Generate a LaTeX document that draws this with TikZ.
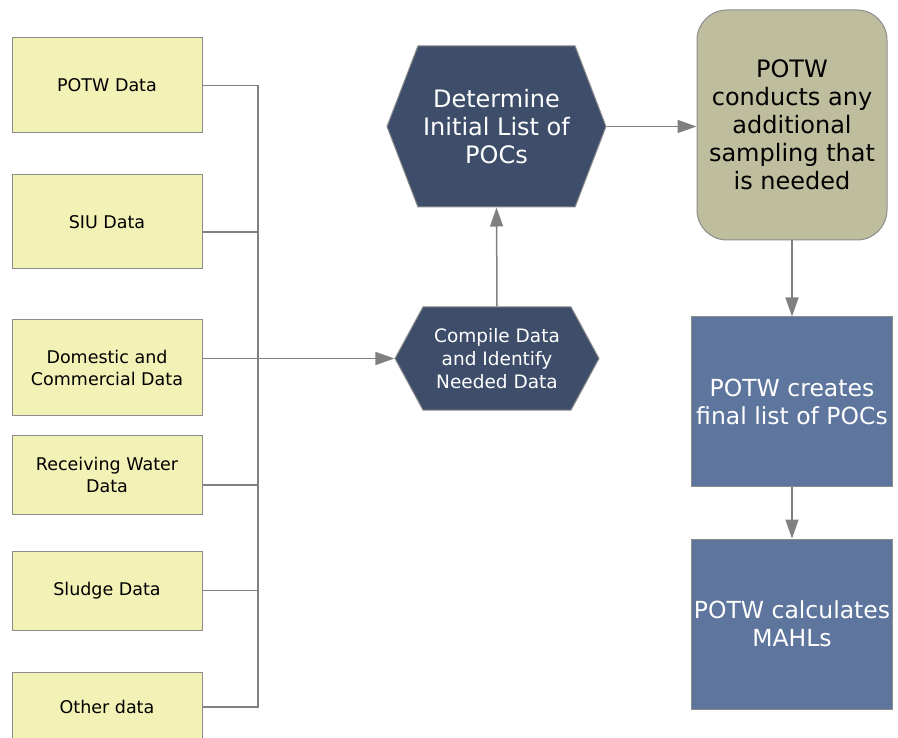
\documentclass[tikz,border=0pt]{standalone}
\usepackage{fontspec}
\setmainfont{DejaVu Sans}
\usepackage{tikz}
\usetikzlibrary{shapes.symbols, arrows.meta, positioning}
\definecolor{srcfill}{HTML}{F2F2B6}
\definecolor{hexfill}{HTML}{3E4E6A}
\definecolor{olivefill}{HTML}{BEBE9E}
\definecolor{bluefill}{HTML}{5E769E}
\definecolor{edgegray}{HTML}{8C8C8C}
\definecolor{linegray}{HTML}{808080}
\tikzset{
  base/.style={draw=edgegray, line width=1pt, align=center, inner sep=2pt},
  % input data boxes on the left
  src/.style={base, rectangle, fill=srcfill, minimum width=190pt,
    font={\fontsize{17.5}{22}\selectfont}},
  % hexagons in the middle
  hexa/.style={base, signal, signal to=east and west, fill=hexfill, text=white},
  hexa_big/.style={hexa, minimum width=219pt, minimum height=161pt,
    signal pointer angle=138, font={\fontsize{24}{28}\selectfont}},
  hexa_small/.style={hexa, minimum width=204pt, minimum height=103pt,
    signal pointer angle=123, font={\fontsize{18.5}{23}\selectfont}},
  % steps on the right
  term/.style={base, rectangle, rounded corners=30pt, fill=olivefill,
    minimum width=190pt, minimum height=230pt, font={\fontsize{24}{28}\selectfont}},
  proc/.style={base, rectangle, fill=bluefill, text=white,
    minimum width=201pt, font={\fontsize{23.5}{28}\selectfont}},
  % -------------------------------------------------
  % connector styles
  link/.style={draw=linegray, line width=1.5pt},
  flow/.style={link, -{Triangle[length=19pt, width=13pt]}}
}

\begin{document}
\begin{tikzpicture}[x=1pt, y=-1pt]
\useasboundingbox (0,0) rectangle (898,738);

% -------------------------------------------------
% data sources
\node [src, minimum height=95pt] (potw) at (107,85.5) {POTW Data};
\node [src, minimum height=94pt] (siu) at (107,222) {SIU Data};
\node [src, minimum height=95pt] (domestic) at (107,367.5) {Domestic and\\Commercial Data};
\node [src, minimum height=79pt] (receiving) at (107,474.5) {Receiving Water\\Data};
\node [src, minimum height=79pt] (sludge) at (107,590.5) {Sludge Data};
\node [src, minimum height=70pt] (other) at (107,707) {Other data};

% -------------------------------------------------
% processing steps
\node [hexa_small] (compile) at (497,358.5) {Compile Data\\and Identify\\Needed Data};
\node [hexa_big] (determine) at (496.5,126.5) {Determine\\Initial List of\\POCs};
\node [term] (sampling) at (792,125) {POTW\\conducts any\\additional\\sampling that\\is needed};
\node [proc, minimum height=169pt, below=76pt of sampling] (final) {POTW creates\\final list of POCs};
\node [proc, minimum height=170pt, below=52pt of final] (mahl) {POTW calculates\\MAHLs};

% -------------------------------------------------
% bus collecting the data sources
\coordinate (bus) at (258,0);
\draw [link] (potw.east) -- (potw.east -| bus) -- (other.east -| bus) -- (other.east);
\draw [link] (siu.east) ++(0,10) -- ++(56,0);
\draw [link] (receiving.east) ++(0,10.5) -- ++(56,0);
\draw [link] (sludge.east) -- (sludge.east -| bus);
\draw [flow] (compile.west -| domestic.east) -- (compile.west);

% flow between the steps
\draw [flow] (compile.north) -- (determine.south);
\draw [flow] (determine.east) -- (determine.east -| sampling.west);
\draw [flow] (sampling.south) -- (final.north);
\draw [flow] (final.south) -- (mahl.north);

\end{tikzpicture}
\end{document}
